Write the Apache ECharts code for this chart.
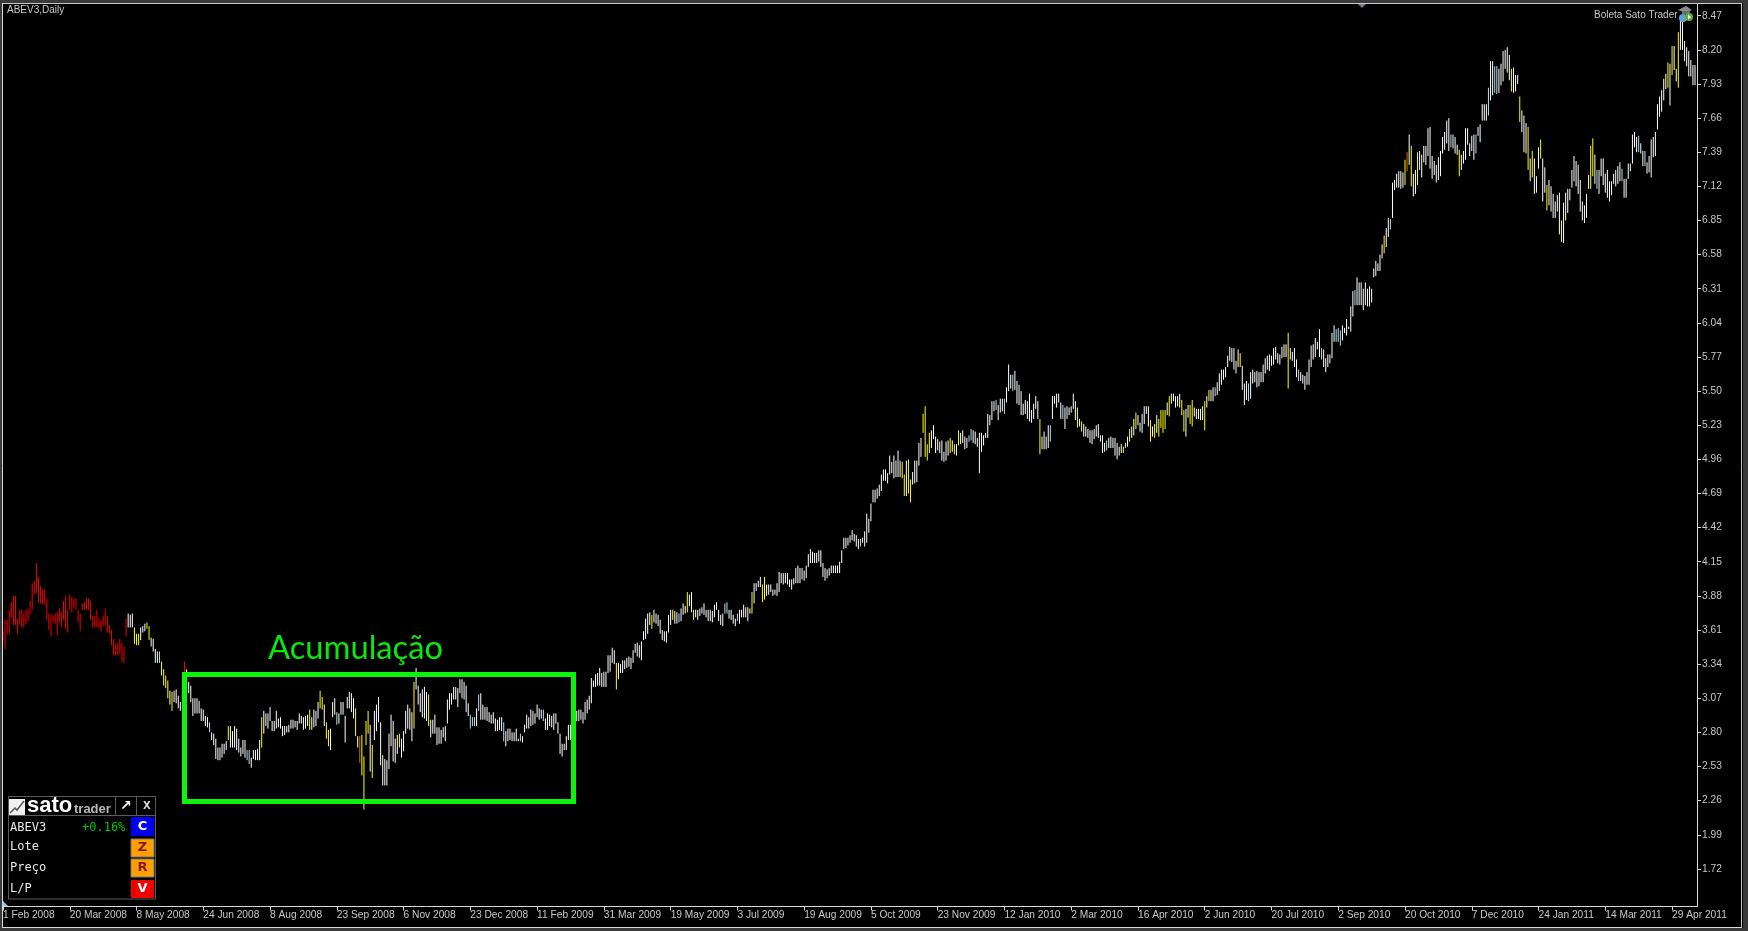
<!DOCTYPE html>
<html><head><meta charset="utf-8"><title>ABEV3,Daily</title>
<style>html,body{margin:0;padding:0;background:#000}#c{width:1748px;height:931px}</style>
<script src="https://cdn.jsdelivr.net/npm/echarts@6/dist/echarts.min.js"></script>
</head><body><div id="c"></div>
<script>
const dateLabels=["1 Feb 2008","20 Mar 2008","8 May 2008","24 Jun 2008","8 Aug 2008","23 Sep 2008","6 Nov 2008","23 Dec 2008","11 Feb 2009","31 Mar 2009","19 May 2009","3 Jul 2009","19 Aug 2009","5 Oct 2009","23 Nov 2009","12 Jan 2010","2 Mar 2010","16 Apr 2010","2 Jun 2010","20 Jul 2010","2 Sep 2010","20 Oct 2010","7 Dec 2010","24 Jan 2011","14 Mar 2011","29 Apr 2011"];
const priceTicks=[8.47,8.20,7.93,7.66,7.39,7.12,6.85,6.58,6.31,6.04,5.77,5.50,5.23,4.96,4.69,4.42,4.15,3.88,3.61,3.34,3.07,2.80,2.53,2.26,1.99,1.72];
// daily [high, low]
const highLow=[
[3.60,3.53],[3.69,3.46],[3.69,3.58],[3.77,3.58],[3.83,3.71],[3.88,3.65],[3.88,3.65],[3.70,3.58],[3.77,3.65],[3.77,3.63],
[3.74,3.63],[3.77,3.66],[3.78,3.68],[3.84,3.73],[3.98,3.77],[4.00,3.89],[4.14,3.90],[4.03,3.83],[3.96,3.82],[3.93,3.81],
[3.93,3.81],[3.86,3.69],[3.74,3.61],[3.73,3.56],[3.73,3.67],[3.74,3.66],[3.75,3.57],[3.78,3.67],[3.75,3.63],[3.84,3.69],
[3.88,3.62],[3.77,3.59],[3.89,3.77],[3.87,3.75],[3.86,3.78],[3.86,3.77],[3.77,3.67],[3.74,3.60],[3.82,3.77],[3.83,3.77],
[3.86,3.77],[3.86,3.77],[3.84,3.69],[3.72,3.63],[3.72,3.63],[3.77,3.63],[3.70,3.62],[3.69,3.60],[3.72,3.64],[3.78,3.65],
[3.72,3.59],[3.65,3.58],[3.61,3.49],[3.54,3.41],[3.50,3.41],[3.51,3.41],[3.54,3.42],[3.51,3.36],[3.48,3.35],[3.70,3.56],
[3.74,3.63],[3.73,3.63],[3.74,3.63],[3.63,3.50],[3.58,3.49],[3.58,3.49],[3.63,3.53],[3.64,3.59],[3.66,3.60],[3.67,3.62],
[3.64,3.53],[3.55,3.48],[3.54,3.44],[3.46,3.35],[3.44,3.35],[3.44,3.35],[3.36,3.25],[3.30,3.17],[3.25,3.15],[3.21,3.07],
[3.13,3.02],[3.12,2.97],[3.13,3.04],[3.14,3.03],[3.09,2.99],[3.04,2.97],[3.11,3.00],[3.36,3.26],[3.30,3.12],[3.20,3.11],
[3.17,3.04],[3.07,2.93],[3.07,2.95],[3.07,2.95],[3.05,2.95],[2.99,2.89],[2.98,2.89],[2.93,2.85],[2.92,2.84],[2.88,2.80],
[2.80,2.74],[2.79,2.70],[2.75,2.59],[2.68,2.58],[2.68,2.58],[2.71,2.60],[2.71,2.63],[2.73,2.66],[2.85,2.74],[2.85,2.68],
[2.81,2.68],[2.85,2.68],[2.83,2.66],[2.75,2.64],[2.68,2.61],[2.74,2.63],[2.74,2.60],[2.66,2.58],[2.66,2.55],[2.60,2.52],
[2.66,2.59],[2.66,2.58],[2.67,2.58],[2.74,2.58],[2.92,2.68],[2.97,2.79],[2.95,2.85],[2.95,2.83],[3.00,2.89],[2.89,2.81],
[2.89,2.81],[2.97,2.83],[2.91,2.84],[2.92,2.83],[2.85,2.77],[2.85,2.78],[2.85,2.80],
[2.86,2.80],[2.90,2.83],[2.90,2.83],[2.89,2.84],[2.89,2.82],[2.95,2.87],[2.93,2.87],[2.92,2.82],[2.93,2.83],[2.94,2.85],
[2.98,2.82],[2.92,2.82],[2.98,2.84],[2.97,2.85],[3.04,2.91],[3.13,2.99],[3.08,2.98],[3.02,2.85],[2.88,2.75],[2.82,2.69],
[2.83,2.66],[3.04,2.92],[3.07,2.94],[2.96,2.86],[2.95,2.87],[3.04,2.94],[3.04,2.94],[2.93,2.72],[3.08,2.99],[3.12,2.99],
[3.11,2.96],[3.07,2.91],[2.99,2.77],[2.77,2.68],[2.77,2.56],[2.78,2.46],[2.61,2.19],[2.89,2.70],[2.97,2.79],[2.86,2.49],
[2.70,2.44],[2.97,2.74],[3.02,2.81],[3.08,2.88],[2.88,2.54],[2.62,2.38],[2.59,2.38],[2.58,2.38],[2.79,2.51],[2.94,2.69],
[2.89,2.57],[2.75,2.56],[2.78,2.63],[2.79,2.68],[2.75,2.60],[2.81,2.65],[2.97,2.79],[3.02,2.83],[2.99,2.82],[2.96,2.73],
[3.20,2.83],[3.31,3.14],[3.17,3.02],[3.11,2.96],[3.14,2.92],[3.16,2.91],[3.12,2.89],[3.10,2.85],[2.90,2.76],[2.90,2.79],
[2.94,2.79],[2.84,2.70],[2.84,2.71],[2.82,2.71],[2.84,2.76],[2.85,2.73],[3.06,2.87],[3.11,2.98],[3.11,3.02],[3.16,3.06],
[3.16,3.06],[3.15,3.00],[3.22,3.11],[3.22,3.07],[3.20,3.06],[3.17,2.96],[3.03,2.93],[2.94,2.83],[2.92,2.85],[2.92,2.85],
[2.99,2.85],[3.10,2.97],[3.11,2.90],[3.02,2.90],[3.00,2.90],[3.00,2.89],[2.96,2.88],[2.94,2.87],[2.96,2.87],[2.91,2.81],
[2.90,2.81],[2.92,2.82],[2.92,2.81],[2.88,2.73],[2.81,2.69],[2.83,2.73],[2.83,2.74],[2.80,2.73],[2.80,2.73],[2.83,2.73],
[2.75,2.73],[2.79,2.73],[2.77,2.72],[2.86,2.80],[2.94,2.83],[2.92,2.83],[2.98,2.85],[2.97,2.86],[2.95,2.87],[3.02,2.92],
[2.99,2.90],[2.98,2.91],[2.98,2.89],[2.91,2.82],[2.95,2.82],[2.94,2.85],[2.93,2.84],[2.95,2.82],[2.95,2.87],[2.88,2.79],
[2.79,2.63],[2.71,2.61],[2.71,2.66],[2.77,2.66],[2.86,2.74],[2.86,2.74],
[2.90,2.80],[2.95,2.85],[2.97,2.89],[2.98,2.89],[2.98,2.90],[2.96,2.87],[3.04,2.90],[3.06,2.95],[3.09,2.98],[3.23,3.03],
[3.21,3.16],[3.26,3.16],[3.27,3.17],[3.31,3.17],[3.27,3.16],[3.28,3.16],[3.28,3.16],[3.41,3.27],[3.41,3.28],[3.47,3.35],
[3.45,3.34],[3.35,3.14],[3.35,3.22],[3.34,3.27],[3.37,3.27],[3.37,3.30],[3.39,3.31],[3.40,3.32],[3.39,3.30],[3.45,3.35],
[3.50,3.43],[3.51,3.40],[3.49,3.39],[3.52,3.37],[3.60,3.53],[3.70,3.54],[3.74,3.58],[3.75,3.65],[3.73,3.62],[3.77,3.67],
[3.74,3.66],[3.73,3.64],[3.69,3.58],[3.61,3.53],[3.60,3.52],[3.60,3.51],[3.73,3.59],[3.77,3.65],[3.77,3.69],[3.76,3.66],
[3.75,3.66],[3.74,3.67],[3.78,3.68],[3.82,3.73],[3.80,3.74],[3.91,3.75],[3.89,3.80],[3.91,3.75],[3.77,3.69],[3.77,3.71],
[3.77,3.69],[3.78,3.72],[3.79,3.74],[3.82,3.73],[3.77,3.71],[3.77,3.68],[3.77,3.68],[3.76,3.67],[3.81,3.71],[3.83,3.77],
[3.77,3.68],[3.73,3.65],[3.74,3.64],[3.82,3.74],[3.83,3.74],[3.77,3.70],[3.77,3.69],[3.73,3.66],[3.70,3.64],[3.74,3.68],
[3.77,3.66],[3.77,3.71],[3.81,3.71],[3.79,3.71],[3.79,3.68],[3.78,3.74],[3.91,3.74],[3.98,3.82],[3.98,3.92],[4.00,3.95],
[4.03,3.95],[3.97,3.83],[4.03,3.85],[3.97,3.88],[3.97,3.89],[3.97,3.91],[3.93,3.88],[3.93,3.89],[3.98,3.88],[4.07,3.91],
[4.06,3.98],[4.06,3.97],[4.06,3.98],[4.06,3.97],[4.01,3.95],[4.01,3.93],[4.02,3.97],[4.10,3.98],[4.12,3.98],[4.10,3.98],
[4.10,4.01],[4.08,4.00],[4.12,4.02],[4.21,4.11],[4.25,4.14],[4.23,4.14],[4.22,4.14],[4.22,4.14],[4.24,4.15],[4.24,4.11],
[4.14,4.03],[4.10,4.00],[4.09,4.02],[4.10,4.04],[4.12,4.06],[4.12,4.06],[4.12,4.06],[4.12,4.06],[4.15,4.06],[4.24,4.14],
[4.34,4.25],[4.34,4.26],[4.34,4.28],[4.36,4.30],[4.40,4.32],[4.37,4.31],
[4.36,4.27],[4.33,4.25],[4.33,4.27],[4.34,4.30],[4.39,4.27],[4.53,4.30],[4.49,4.38],[4.61,4.47],[4.72,4.62],[4.72,4.62],
[4.73,4.65],[4.76,4.67],[4.84,4.71],[4.88,4.79],[4.88,4.79],[4.85,4.77],[4.99,4.84],[4.94,4.85],[4.99,4.81],[4.95,4.82],
[5.03,4.82],[4.95,4.82],[4.94,4.81],[4.84,4.67],[4.95,4.67],[4.96,4.69],[4.80,4.62],[4.86,4.76],[4.95,4.77],[4.95,4.78],
[5.09,4.91],[5.13,4.98],[5.32,5.17],[5.38,4.98],[5.08,4.95],[5.17,5.01],[5.19,5.05],[5.23,5.12],[5.14,5.01],[5.12,5.03],
[5.10,5.01],[5.11,4.95],[5.02,4.94],[5.10,4.95],[5.11,4.99],[5.13,5.01],[5.11,5.02],[5.08,5.00],[5.08,4.99],[5.19,5.07],
[5.17,5.08],[5.19,5.09],[5.14,5.04],[5.13,5.05],[5.15,5.10],[5.20,5.11],[5.19,5.09],[5.18,5.08],[5.13,5.06],[5.17,4.85],
[5.17,5.02],[5.15,5.07],[5.17,5.13],[5.32,5.13],[5.31,5.23],[5.42,5.27],[5.42,5.34],[5.43,5.35],[5.39,5.27],[5.44,5.33],
[5.44,5.34],[5.44,5.32],[5.53,5.41],[5.71,5.50],[5.63,5.52],[5.63,5.50],[5.66,5.51],[5.58,5.40],[5.55,5.39],[5.50,5.31],
[5.40,5.31],[5.43,5.32],[5.42,5.28],[5.48,5.26],[5.35,5.25],[5.40,5.28],[5.46,5.36],[5.42,5.28],[5.28,5.00],[5.14,5.04],
[5.18,5.04],[5.14,5.04],[5.23,5.05],[5.23,5.10],[5.46,5.28],[5.46,5.40],[5.48,5.37],[5.48,5.41],[5.41,5.28],[5.39,5.28],
[5.37,5.20],[5.38,5.28],[5.37,5.31],[5.38,5.33],[5.48,5.36],[5.42,5.27],[5.37,5.21],[5.28,5.22],[5.26,5.18],[5.24,5.14],
[5.22,5.14],[5.20,5.13],[5.19,5.09],[5.19,5.08],[5.20,5.12],[5.23,5.14],[5.24,5.13],[5.15,5.10],[5.15,5.01],[5.09,5.02],
[5.11,5.03],[5.13,5.05],[5.14,5.05],[5.13,5.05],[5.13,4.99],[5.09,4.96],[5.06,4.99],[5.08,5.01],[5.06,5.01],[5.09,5.05],
[5.14,5.06],[5.20,5.10],[5.22,5.13],[5.28,5.15],[5.33,5.20],[5.31,5.23],[5.25,5.18],
[5.32,5.17],[5.38,5.24],[5.38,5.32],[5.38,5.22],[5.27,5.10],[5.22,5.14],[5.24,5.13],[5.31,5.17],[5.28,5.14],[5.35,5.21],
[5.35,5.17],[5.35,5.20],[5.41,5.31],[5.46,5.30],[5.48,5.40],[5.48,5.42],[5.46,5.37],[5.46,5.38],[5.48,5.37],[5.43,5.31],
[5.35,5.18],[5.36,5.14],[5.39,5.29],[5.39,5.24],[5.43,5.22],[5.37,5.30],[5.36,5.28],[5.36,5.28],[5.36,5.27],[5.38,5.27],
[5.42,5.19],[5.46,5.37],[5.51,5.42],[5.51,5.42],[5.53,5.42],[5.53,5.46],[5.57,5.47],[5.64,5.50],[5.67,5.55],[5.67,5.59],
[5.69,5.61],[5.78,5.69],[5.85,5.74],[5.84,5.73],[5.84,5.67],[5.74,5.64],[5.83,5.69],[5.80,5.69],[5.70,5.51],[5.56,5.39],
[5.58,5.43],[5.56,5.42],[5.65,5.44],[5.67,5.56],[5.65,5.57],[5.66,5.53],[5.65,5.54],[5.65,5.57],[5.71,5.57],[5.76,5.64],
[5.78,5.67],[5.79,5.66],[5.78,5.70],[5.84,5.71],[5.85,5.75],[5.80,5.72],[5.79,5.71],[5.85,5.76],[5.87,5.77],[5.87,5.77],
[5.96,5.52],[5.84,5.75],[5.81,5.74],[5.84,5.69],[5.75,5.61],[5.67,5.58],[5.65,5.58],[5.63,5.56],[5.62,5.51],[5.65,5.55],
[5.75,5.55],[5.86,5.69],[5.87,5.75],[5.92,5.77],[5.89,5.83],[5.99,5.77],[5.84,5.75],[5.83,5.69],[5.76,5.65],[5.79,5.69],
[5.79,5.72],[5.96,5.76],[6.02,5.89],[5.99,5.89],[6.00,5.89],[5.98,5.86],[6.02,5.90],[6.00,5.96],[6.07,5.94],[6.01,5.99],
[6.17,5.97],[6.29,6.09],[6.30,6.18],[6.40,6.18],[6.36,6.18],[6.36,6.18],[6.31,6.14],[6.36,6.18],[6.31,6.17],[6.33,6.17],
[6.31,6.20],[6.47,6.40],[6.53,6.41],[6.51,6.45],[6.58,6.45],[6.66,6.55],[6.73,6.59],[6.79,6.64],[6.87,6.72],[6.86,6.78],
[7.15,6.87],[7.17,7.09],[7.22,7.11],[7.24,7.11],
[7.24,7.10],[7.23,7.11],[7.33,7.13],[7.39,7.24],[7.53,7.29],[7.44,7.12],[7.22,7.04],[7.25,7.06],[7.39,7.13],[7.40,7.25],
[7.37,7.19],[7.44,7.31],[7.44,7.29],[7.58,7.36],[7.59,7.26],[7.36,7.18],[7.32,7.21],[7.29,7.15],[7.35,7.17],[7.40,7.20],
[7.51,7.38],[7.55,7.41],[7.64,7.46],[7.66,7.40],[7.53,7.43],[7.53,7.42],[7.51,7.38],[7.45,7.37],[7.41,7.20],[7.37,7.25],
[7.40,7.30],[7.58,7.33],[7.58,7.45],[7.46,7.36],[7.52,7.40],[7.53,7.33],[7.53,7.38],[7.59,7.52],[7.61,7.47],[7.77,7.64],
[7.77,7.64],[7.77,7.64],[7.90,7.68],[8.11,7.80],[8.11,7.84],[8.07,7.86],[8.07,7.85],[8.05,7.86],[8.09,7.92],[8.19,7.95],
[8.20,8.05],[8.22,8.02],[8.16,7.96],[8.05,7.87],[8.06,7.86],[8.00,7.87],[8.00,7.93],[7.83,7.63],[7.72,7.55],[7.68,7.39],
[7.62,7.38],[7.59,7.25],[7.34,7.16],[7.40,7.19],[7.34,7.06],[7.20,7.07],[7.43,7.26],[7.49,7.34],[7.34,7.00],[7.27,7.07],
[7.13,6.93],[7.17,6.97],[7.12,6.92],[7.06,6.87],[7.00,6.87],[7.05,6.92],[7.07,6.74],[6.85,6.68],[6.99,6.67],[7.07,6.85],
[7.10,6.91],[7.10,7.01],[7.25,7.11],[7.36,7.16],[7.32,7.12],[7.29,7.06],[7.17,6.92],[7.00,6.85],[6.97,6.83],[7.06,6.87],
[7.21,7.10],[7.44,7.10],[7.50,7.20],[7.37,7.14],[7.25,7.10],[7.25,7.06],[7.34,7.20],[7.34,7.13],[7.22,7.07],[7.25,7.03],
[7.16,7.00],[7.16,7.05],[7.22,7.14],[7.25,7.12],[7.28,7.14],[7.31,7.16],[7.26,7.16],[7.18,7.03],[7.18,7.03],[7.30,7.18],
[7.30,7.24],[7.53,7.30],[7.55,7.43],[7.51,7.39],[7.52,7.39],[7.46,7.38],[7.40,7.28],[7.40,7.28],[7.31,7.22],[7.36,7.23],
[7.49,7.19],[7.51,7.35],[7.55,7.36],[7.77,7.57],[7.83,7.67],[7.88,7.71],[7.97,7.80],[8.01,7.89],[8.10,7.90],[8.09,7.76],
[8.23,8.00],[8.23,8.04],[8.05,7.95],[8.34,7.90],[8.44,8.20],[8.42,8.20],[8.27,8.11],[8.22,8.07],[8.19,7.99],[8.12,7.99],
[8.08,7.92],[8.08,7.92]
];
const redBars=[...Array(60).keys(),87];
const yellowBars=[63,64,65,69,70,76,77,78,79,81,108,124,147,152,153,155,156,169,172,173,174,175,177,190,197,204,294,311,321,328,331,359,364,365,431,432,434,435,441,442,443,444,454,456,458,497,515,517,537,538,540,543,550,552,554,555,556,557,559,565,566,569,570,576,578,593,616,662,672,675,678,698,723,727,731,733,737,740,747,761,762,798,800,803];
const blueBars=[75,99,117,118,160,224,225,226,228,240,248,259,324,346,347,352,411,463,464,476,480,484,502,508,529,581,597,621,632,639,640,641,648,665,694,706,712,715,716,764,776,784,787];
const orangeBars=[171,673];

const COLORS={w:'#ffffff',r:'#f00000',y:'#ffff00',b:'#b4dcec',o:'#c87000'};
const colorOf=new Map();
redBars.forEach(i=>colorOf.set(i,'r'));yellowBars.forEach(i=>colorOf.set(i,'y'));blueBars.forEach(i=>colorOf.set(i,'b'));orangeBars.forEach(i=>colorOf.set(i,'o'));
const categories=Array.from({length:highLow.length+1},(_,i)=>i%32===0?(dateLabels[i/32]||''):'');
const seriesData=highLow.map((d,i)=>[i,d[0],d[1]]);

const txt=(x,y,text,fill,font,extra)=>({type:'text',x,y,z:30,silent:true,style:Object.assign({text,fill,font,textVerticalAlign:'middle'},extra||{})});
const box=(x,y,w,h,fill,stroke)=>({type:'rect',z:20,silent:true,shape:{x,y,width:w,height:h},style:{fill:fill,stroke:stroke||null,lineWidth:1}});
const ln=(x1,y1,x2,y2,c,w)=>({type:'line',z:25,silent:true,shape:{x1,y1,x2,y2},style:{stroke:c,lineWidth:w||1}});
const mono='12px "DejaVu Sans Mono"';
const graphic=[
 box(0,0,1748,3,'#3a3a3a'),box(0,928,1748,3,'#3a3a3a'),box(1743,0,5,931,'#3a3a3a'),box(0,0,2,931,'#3a3a3a'),
 ln(2,3.5,1742,3.5,'#c8c8c8'),ln(2.5,3,2.5,928,'#d8d8d8'),ln(1741.5,3,1741.5,928,'#c8c8c8'),ln(2,927.5,1742,927.5,'#d8d8d8'),
 {type:'polygon',z:25,silent:true,shape:{points:[[1358,4],[1366,4],[1362,8]]},style:{fill:'#6a8090'}},
 {type:'polygon',z:25,silent:true,shape:{points:[[3,901],[3,906],[8,906]]},style:{fill:'#9fc0d8'}},
 txt(7,10.5,'ABEV3,Daily','#c8c8c8','10px "Liberation Sans"'),
 txt(1594,15,'Boleta Sato Trader','#c8c8c8','10px "Liberation Sans"'),
 {type:'polygon',z:25,silent:true,shape:{points:[[1678,10],[1686,6],[1692,10],[1686,13]]},style:{fill:'#8a8a8a'}},
 {type:'rect',z:25,silent:true,shape:{x:1682,y:11,width:8,height:3},style:{fill:'#6a6a6a'}},
 {type:'circle',z:26,silent:true,shape:{cx:1683,cy:18,r:4},style:{fill:'#5aa0dc'}},
 {type:'circle',z:27,silent:true,shape:{cx:1689,cy:17,r:4},style:{fill:'#58b030'}},
 {type:'polygon',z:28,silent:true,shape:{points:[[1688,14.5],[1688,19.5],[1691,17]]},style:{fill:'#ffffff'}},
 {type:'rect',z:40,silent:true,shape:{x:184.5,y:674.5,width:389,height:127},style:{fill:'none',stroke:'#0cf30c',lineWidth:5}},
 txt(268,648,'Acumulação','#0ce80c','32.7px Lato'),
 box(8.5,796.5,147,102.5,'#000','#5a5a5a'),
 ln(8.5,815.5,155.5,815.5,'#5a5a5a'),ln(115.5,796.5,115.5,815.5,'#5a5a5a'),ln(136.5,796.5,136.5,815.5,'#5a5a5a'),
 box(9,799,16,16,'#f0f0f0'),
 {type:'polyline',z:25,silent:true,shape:{points:[[10,813],[15,808],[17,810],[24,801]]},style:{stroke:'#555',lineWidth:1.5,fill:'none'}},
 txt(27,806,'sato','#ffffff','bold 22px "Liberation Sans"'),
 txt(74,809,'trader','#b8b8b8','bold 13px "Liberation Sans"'),
 txt(120,806,'↗','#ffffff','bold 14px "DejaVu Sans"'),
 txt(143,806,'X','#d8d8d8','bold 10px "DejaVu Sans"'),
 txt(10,828,'ABEV3','#e8e8e8',mono),
 txt(82,828,'+0.16%','#00c800',mono),
 txt(10,847,'Lote','#e8e8e8',mono),txt(10,868,'Preço','#e8e8e8',mono),txt(10,889,'L/P','#e8e8e8',mono),
 box(131,817,23,19,'#0000f0'),box(131,839,23,18,'#ffa000','#777'),box(131,859,23,18,'#ffa000','#777'),box(131,880,23,18,'#f00000'),
 txt(142.5,827,'C','#ffffff','bold 13px "DejaVu Sans"',{textAlign:'center'}),
 txt(142.5,848,'Z','#8a1800','bold 13px "DejaVu Sans"',{textAlign:'center'}),
 txt(142.5,868,'R','#8a1800','bold 13px "DejaVu Sans"',{textAlign:'center'}),
 txt(142.5,889,'V','#ffffff','bold 13px "DejaVu Sans"',{textAlign:'center'})
];

const chart=echarts.init(document.getElementById('c'),null,{renderer:'canvas'});
chart.setOption({
 animation:false,backgroundColor:'#000',
 grid:{left:2.5,right:50.9,top:3.5,bottom:24.5,containLabel:false},
 xAxis:{type:'category',data:categories,boundaryGap:false,
  axisLine:{show:true,lineStyle:{color:'#d8d8d8',width:1}},
  axisTick:{show:true,interval:31,length:4,lineStyle:{color:'#d8d8d8'}},
  axisLabel:{show:true,interval:31,align:'left',margin:4,color:'#c8c8c8',fontSize:10.2,fontFamily:'Liberation Sans',hideOverlap:false},
  splitLine:{show:false}},
 yAxis:{type:'value',position:'right',min:1.4225,max:8.5665,
  axisLine:{show:true,lineStyle:{color:'#d8d8d8',width:1}},
  axisTick:{show:true,length:4,customValues:priceTicks,lineStyle:{color:'#d8d8d8'}},
  axisLabel:{show:true,margin:5,customValues:priceTicks,color:'#c8c8c8',fontSize:10.2,fontFamily:'Liberation Sans',lineHeight:12,padding:[2,0,0,0],formatter:v=>Number(v).toFixed(2)},
  splitLine:{show:false}},
 graphic:graphic,
 series:[{type:'custom',coordinateSystem:'cartesian2d',clip:false,silent:true,
  encode:{x:0,y:[1,2]},data:seriesData,
  renderItem:(params,api)=>{
   const i=api.value(0),a=api.coord([i,api.value(1)]),b=api.coord([i,api.value(2)]);
   return {type:'line',shape:{x1:a[0],y1:a[1],x2:b[0],y2:b[1]},style:{stroke:COLORS[colorOf.get(i)||'w'],lineWidth:1}};
  }}]
});
</script></body></html>
